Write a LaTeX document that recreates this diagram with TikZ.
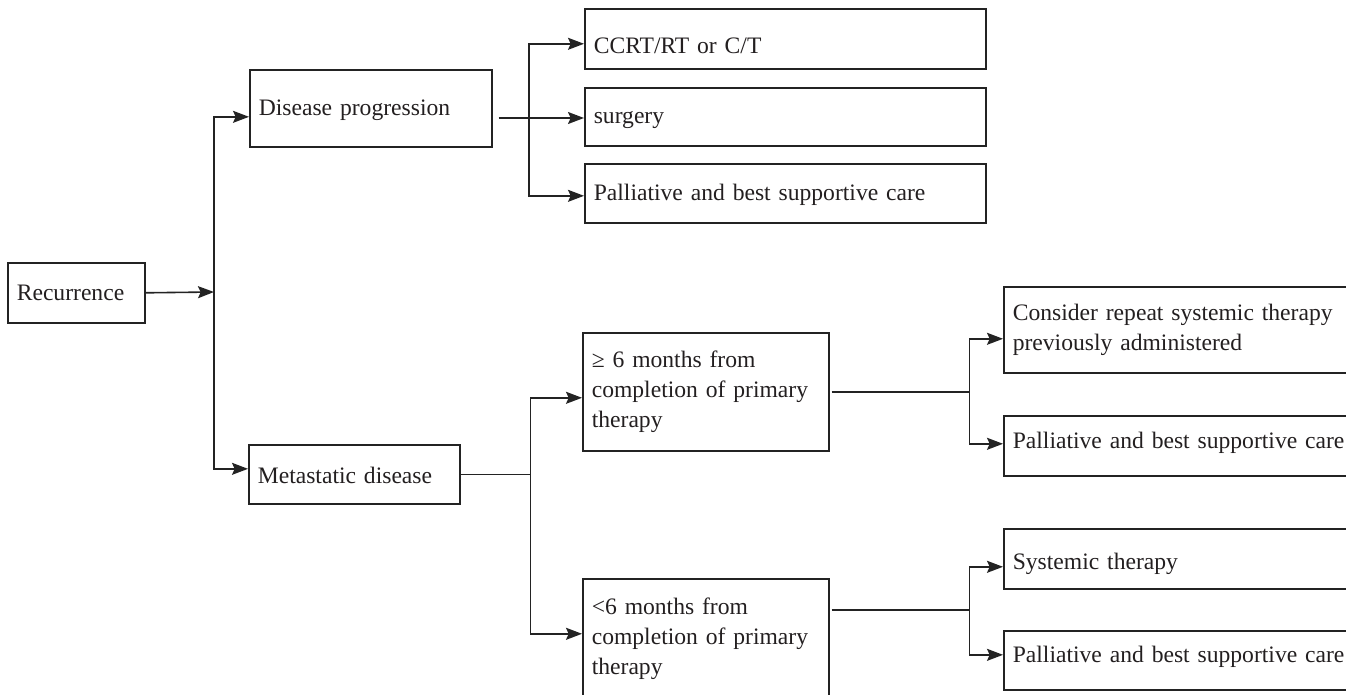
\documentclass[tikz,border=0pt]{standalone}
\usepackage{fontspec}
\setmainfont{Liberation Serif}
\usetikzlibrary{arrows.meta,calc}
\definecolor{ln}{RGB}{35,35,35}
\definecolor{tx}{RGB}{35,31,32}
\begin{document}
\begin{tikzpicture}[x=0.75pt,y=-0.75pt,
  box/.style={draw=ln, line width=1.2pt, anchor=north west, inner xsep=6.75pt, inner ysep=0pt, align=left, text=tx, font=\fontsize{17.7}{22.5}\selectfont},
  one/.style={text depth=3.9pt, text height=#1},
  conn/.style={draw=ln, line width=1.2pt},
  arr/.style={conn, -{Stealth[length=12pt,width=9pt,inset=2pt]}}]
\useasboundingbox (0,0) rectangle (1346,695);
\clip (0,0) rectangle (1346,695);

% boxes
\node[box, one=15.9pt, text width=89.25pt, minimum width=102.75pt, minimum height=45pt] (rec) at (7,262) {Recurrence};
\node[box, one=15.1pt, text width=168pt, minimum width=181.5pt, minimum height=57.75pt] (dp) at (249,69) {Disease progression};
\node[box, one=26.4pt, text width=287.25pt, minimum width=300.75pt, minimum height=45pt] (ccrt) at (584,8) {CCRT/RT or C/T};
\node[box, one=14.4pt, text width=287.25pt, minimum width=300.75pt, minimum height=43.5pt] (surg) at (584,87) {surgery};
\node[box, one=15.1pt, text width=287.25pt, minimum width=300.75pt, minimum height=44.25pt] (pal1) at (584,163) {Palliative and best supportive care};
\node[box, one=18.1pt, text width=144.75pt, minimum width=158.25pt, minimum height=44.25pt] (met) at (248,444) {Metastatic disease};
\node[box, text width=171pt, minimum width=184.5pt, minimum height=88.5pt] (ge6) at (582,332) {≥ 6 months from\\completion of primary\\therapy};
\node[box, text width=171pt, minimum width=184.5pt, minimum height=90pt] (lt6) at (582,578) {<6 months from\\completion of primary\\therapy};
\node[box, text width=254.25pt, minimum width=267.75pt, minimum height=64.5pt] (cons) at (1003,286) {Consider repeat systemic therapy\\previously administered};
\node[box, one=8.4pt, text width=254.25pt, minimum width=267.75pt, minimum height=45pt] (pal2) at (1003,415) {Palliative and best supportive care};
\node[box, one=20.4pt, text width=254.25pt, minimum width=267.75pt, minimum height=45pt] (sys) at (1003,528) {Systemic therapy};
\node[box, one=7.7pt, text width=254.25pt, minimum width=267.75pt, minimum height=44.25pt] (pal3) at (1003,630) {Palliative and best supportive care};

% connectors
\coordinate (j1) at (214,292);
\draw[arr] (rec.east) -- (j1);
\draw[arr] (j1) |- ([yshift=-6.4pt]dp.west);
\draw[arr] (j1) |- ([yshift=4.1pt]met.west);

\coordinate (j2) at (529,118);
\draw[conn] ($(dp.east |- j2)+(6,0)$) -- (j2);
\draw[arr] (j2) |- ([yshift=-3.75pt]ccrt.west);
\draw[arr] (j2) -- (surg.west |- j2);
\draw[arr] (j2) |- ([yshift=-1.9pt]pal1.west);

\path (met.east) -- ++(70,0) coordinate (j3);
\draw[conn] (met.east) -- (j3);
\draw[arr] (j3) |- ([yshift=-4.5pt]ge6.west);
\draw[arr] (j3) |- ([yshift=3.75pt]lt6.west);

\path (ge6.east) ++(2,0) coordinate (g0) ++(138,0) coordinate (j4);
\draw[conn] (g0) -- (j4);
\draw[arr] (j4) |- ([yshift=-6.75pt]cons.west);
\draw[arr] (j4) |- ([yshift=1.5pt]pal2.west);

\path ([yshift=21.75pt]lt6.east) ++(2,0) coordinate (l0) ++(138,0) coordinate (j5);
\draw[conn] (l0) -- (j5);
\draw[arr] (j5) |- ([yshift=-6pt]sys.west);
\draw[arr] (j5) |- ([yshift=4.1pt]pal3.west);
\end{tikzpicture}
\end{document}
